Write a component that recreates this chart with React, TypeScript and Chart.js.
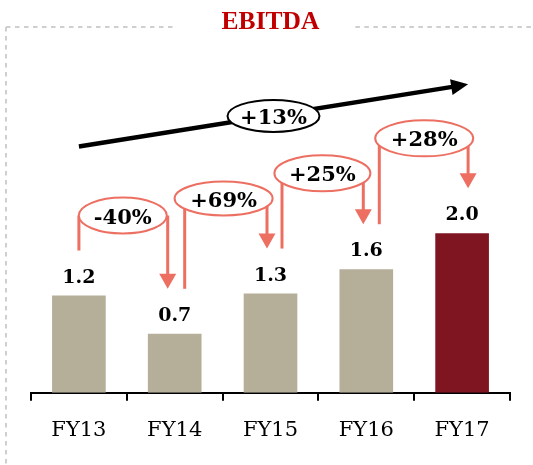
import React, { useEffect, useRef } from "react";
import { Chart, registerables } from "chart.js";

Chart.register(...registerables);

// ---- data ----
const categories = ["FY13", "FY14", "FY15", "FY16", "FY17"];
const ebitda = [1.22, 0.74, 1.245, 1.55, 2.0];
const valueLabels = ["1.2", "0.7", "1.3", "1.6", "2.0"];
const growthLabels = ["-40%", "+69%", "+25%", "+28%"];
const cagrLabel = "+13%";
const chartTitle = "EBITDA";

// ---- styles ----
const BEIGE = "#B5AE98";
const DARK_RED = "#7F1520";
const SALMON = "#EC6F61";
const TITLE_RED = "#C00000";
const FRAME = "#cfcfcf";
const SERIF = "'DejaVu Serif', 'Liberation Serif', serif";

// offsets (px) for growth callouts, relative to the bars they connect
const calloutGeom = [
  { left: 0, right: -7, ellDx: -4, ellDy: 80, rx: 44, ry: 18 },
  { left: 10, right: -3.5, ellDx: 1, ellDy: 95, rx: 49, ry: 17 },
  { left: 11.5, right: -3, ellDx: 4, ellDy: 96, rx: 48, ry: 18 },
  { left: 13, right: 6, ellDx: 10, ellDy: 95, rx: 49, ry: 18 },
];

function downArrow(ctx: CanvasRenderingContext2D, x: number, y0: number, tipY: number) {
  const headLen = 15;
  const half = 8.5;
  ctx.strokeStyle = SALMON;
  ctx.fillStyle = SALMON;
  ctx.lineWidth = 3;
  ctx.beginPath();
  ctx.moveTo(x, y0);
  ctx.lineTo(x, tipY - headLen + 1);
  ctx.stroke();
  ctx.beginPath();
  ctx.moveTo(x - half, tipY - headLen);
  ctx.lineTo(x + half, tipY - headLen);
  ctx.lineTo(x, tipY);
  ctx.closePath();
  ctx.fill();
}

function plainLine(ctx: CanvasRenderingContext2D, x: number, y0: number, y1: number) {
  ctx.strokeStyle = SALMON;
  ctx.lineWidth = 3;
  ctx.beginPath();
  ctx.moveTo(x, y0);
  ctx.lineTo(x, y1);
  ctx.stroke();
}

function bubble(
  ctx: CanvasRenderingContext2D,
  cx: number,
  cy: number,
  rx: number,
  ry: number,
  stroke: string,
  text: string
) {
  ctx.beginPath();
  ctx.ellipse(cx, cy, rx, ry, 0, 0, Math.PI * 2);
  ctx.fillStyle = "#ffffff";
  ctx.fill();
  ctx.lineWidth = 2;
  ctx.strokeStyle = stroke;
  ctx.stroke();
  ctx.fillStyle = "#000";
  ctx.font = `bold 21px ${SERIF}`;
  ctx.textAlign = "center";
  ctx.textBaseline = "alphabetic";
  ctx.fillText(text, cx, cy + 8);
}

const annotPlugin = {
  id: "annot",
  beforeDraw(chart: any) {
    const ctx: CanvasRenderingContext2D = chart.ctx;
    const w = chart.width;
    const h = chart.height;
    ctx.save();
    ctx.font = `bold 25.5px 'Liberation Serif', serif`;
    const tw = ctx.measureText(chartTitle).width;
    const cx = w / 2;
    const fy = 27;
    const fx = 6;
    ctx.strokeStyle = FRAME;
    ctx.lineWidth = 2;
    ctx.setLineDash([4.5, 4.5]);
    ctx.beginPath();
    ctx.moveTo(fx, fy);
    ctx.lineTo(cx - tw / 2 - 41, fy);
    ctx.moveTo(cx + tw / 2 + 40, fy);
    ctx.lineTo(w, fy);
    ctx.moveTo(fx, fy);
    ctx.lineTo(fx, h);
    ctx.stroke();
    ctx.restore();
  },
  afterDatasetsDraw(chart: any) {
    const ctx: CanvasRenderingContext2D = chart.ctx;
    const bars = chart.getDatasetMeta(0).data.map((b: any) => ({ x: b.x, y: b.y }));
    ctx.save();

    // value labels
    ctx.fillStyle = "#000";
    ctx.font = `bold 19px ${SERIF}`;
    ctx.textAlign = "center";
    ctx.textBaseline = "alphabetic";
    bars.forEach((p: any, i: number) => ctx.fillText(valueLabels[i], p.x, p.y - 13));

    // growth callouts
    growthLabels.forEach((lab, i) => {
      const g = calloutGeom[i];
      const a = bars[i];
      const b = bars[i + 1];
      const cx = (a.x + b.x) / 2 + g.ellDx;
      const cy = Math.min(a.y, b.y) - g.ellDy;
      plainLine(ctx, a.x + g.left, cy, a.y - 45);
      downArrow(ctx, b.x + g.right, cy, b.y - 45);
      bubble(ctx, cx, cy, g.rx, g.ry, SALMON, lab);
    });

    // CAGR arrow
    const first = bars[0];
    const last = bars[bars.length - 1];
    const x0 = first.x;
    const y0 = first.y - 149;
    const x1 = last.x + 6;
    const y1 = last.y - 149;
    const ang = Math.atan2(y1 - y0, x1 - x0);
    const headLen = 17;
    const half = 8;
    const bx = x1 - headLen * Math.cos(ang);
    const by = y1 - headLen * Math.sin(ang);
    ctx.strokeStyle = "#000";
    ctx.fillStyle = "#000";
    ctx.lineWidth = 4.5;
    ctx.beginPath();
    ctx.moveTo(x0, y0);
    ctx.lineTo(bx + Math.cos(ang), by + Math.sin(ang));
    ctx.stroke();
    ctx.beginPath();
    ctx.moveTo(bx - half * Math.sin(ang), by + half * Math.cos(ang));
    ctx.lineTo(bx + half * Math.sin(ang), by - half * Math.cos(ang));
    ctx.lineTo(x1, y1);
    ctx.closePath();
    ctx.fill();
    bubble(ctx, (x0 + x1) / 2, (y0 + y1) / 2 + 0.5, 46, 16, "#000", cagrLabel);

    ctx.restore();
  },
};

export default function App() {
  const ref = useRef<HTMLCanvasElement | null>(null);
  useEffect(() => {
    if (!ref.current) return;
    const chart = new Chart(ref.current, {
      type: "bar",
      data: {
        labels: categories,
        datasets: [
          {
            data: ebitda,
            backgroundColor: ebitda.map((_, i) => (i === ebitda.length - 1 ? DARK_RED : BEIGE)),
            barPercentage: 0.56,
            categoryPercentage: 1.0,
            borderWidth: 0,
          },
        ],
      },
      options: {
        responsive: false,
        animation: false,
        devicePixelRatio: 1,
        layout: { padding: { left: 31, right: 23, top: 0, bottom: 5 } },
        plugins: {
          legend: { display: false },
          tooltip: { enabled: false },
          title: {
            display: true,
            text: chartTitle,
            color: TITLE_RED,
            font: { family: "'Liberation Serif', serif", size: 25.5, weight: "bold", lineHeight: 1.2 },
            padding: { top: 7, bottom: 10 },
          },
        },
        scales: {
          x: {
            grid: {
              display: true,
              drawOnChartArea: false,
              drawTicks: true,
              tickLength: 8,
              color: "#000",
              lineWidth: 2,
              offset: true,
            },
            border: { display: true, color: "#000", width: 2 },
            ticks: {
              color: "#000",
              font: { family: SERIF, size: 21 },
              padding: 17,
            },
          },
          y: { display: false, min: 0, max: 4.33 },
        },
      },
      plugins: [annotPlugin],
    });
    return () => chart.destroy();
  }, []);
  return (
    <div style={{ position: "fixed", left: 0, top: 0, width: 533, height: 465, background: "#fff" }}>
      <canvas ref={ref} width={533} height={465} />
    </div>
  );
}
